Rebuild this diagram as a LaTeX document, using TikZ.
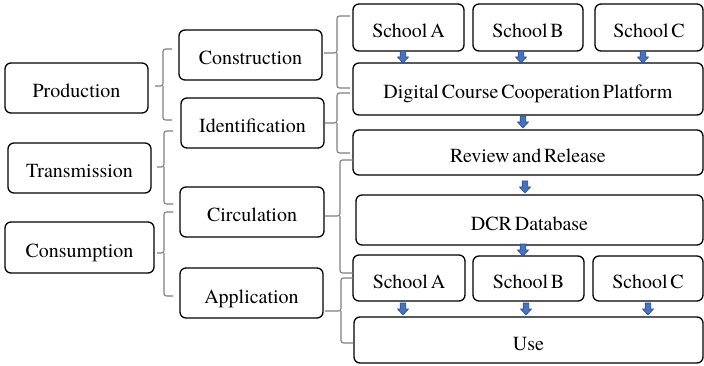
\documentclass[tikz,border=0pt]{standalone}
\usepackage{fontspec}
\setmainfont{TeX Gyre Termes}
\definecolor{arrfill}{HTML}{4472C4}
\definecolor{arrline}{HTML}{2F4F8F}
\definecolor{brcgray}{HTML}{7F7F7F}
% square bracket-like brace: tip x, tip y, spine x, top y, bottom y, end x
\newcommand\bracepath[6]{%
  \draw[brc] (#6,#4) -- (#3,#4) -- (#3,#2) -- (#1,#2);
  \draw[brc] (#6,#5) -- (#3,#5) -- (#3,#2);}
\newcommand\boxfont{\fontsize{20}{24}\selectfont\spaceskip=0.14em plus 0.05em\relax}
\begin{document}
\begin{tikzpicture}[x=1pt,y=-1pt,
  box/.style={draw=black, line width=1.3pt, rounded corners=6pt, inner sep=0pt,
    text height=20pt, text depth=0pt, font=\boxfont},
  brc/.style={draw=brcgray, line width=1.1pt, rounded corners=2.5pt},
  downarrow/.pic={\draw[fill=arrfill, draw=arrline, line width=0.6pt]
    (-2.8,-6) -- (2.8,-6) -- (2.8,0) -- (5.5,0) -- (0,6) -- (-5.5,0) -- (-2.8,0) -- cycle;}]
\fill[white] (0,0) rectangle (704,366);
\useasboundingbox (0,0) rectangle (704,366);

% stages
\node[box, minimum width=143pt, minimum height=50pt] (prod)  at (76.5,88)  {Production};
\node[box, minimum width=143pt, minimum height=50pt] (trans) at (79.5,168) {Transmission};
\node[box, minimum width=149pt, minimum height=51pt] (cons)  at (79.5,247.5) {Consumption};

% activities
\node[box, minimum width=143pt, minimum height=50pt] (constr) at (250.5,55)  {Construction};
\node[box, minimum width=143pt, minimum height=50pt] (ident)  at (252.5,123) {Identification};
\node[box, minimum width=144pt, minimum height=50pt] (circ)   at (252,212)   {Circulation};
\node[box, minimum width=143pt, minimum height=50pt] (appl)   at (251.5,293) {Application};

% process flow
\node[box, minimum width=111pt, minimum height=47pt] (sa1) at (408.5,27.5) {School A};
\node[box, minimum width=110pt, minimum height=47pt] (sb1) at (528,27.5)   {School B};
\node[box, minimum width=108pt, minimum height=47pt] (sc1) at (649,27.5)   {School C};
\node[box, minimum width=350pt, minimum height=52pt] (dccp) at (528,89)    {Digital Course Cooperation Platform};
\node[box, minimum width=350pt, minimum height=45pt] (rr)   at (528,152.5) {Review and Release};
\node[box, minimum width=347pt, minimum height=50pt] (dcr)  at (529.5,220) {DCR Database};
\node[box, minimum width=112pt, minimum height=46pt] (sa2) at (409,278)    {School A};
\node[box, minimum width=111pt, minimum height=45pt] (sb2) at (528.5,278.5) {School B};
\node[box, minimum width=110pt, minimum height=45pt] (sc2) at (648,278.5)  {School C};
\node[box, minimum width=349pt, minimum height=46pt] (use)  at (528.5,340) {Use};

% braces between stages and activities
\bracepath{155}{86}{163}{49}{120}{172}
\bracepath{157}{167}{164}{131}{204}{173}
\bracepath{157}{253}{164}{212}{296}{173}

% braces between activities and the process flow
\bracepath{324}{53}{337}{16}{88}{350}
\bracepath{325}{123}{337}{93}{153}{350}
\bracepath{325}{216}{340}{160}{273}{353}
\bracepath{325}{311}{341}{278}{343}{353}

% block arrows
\pic at (403,57) {downarrow};
\pic at (521,57) {downarrow};
\pic at (643,57) {downarrow};
\pic at (523,122) {downarrow};
\pic at (525,187) {downarrow};
\pic at (523,250) {downarrow};
\pic at (403,309) {downarrow};
\pic at (526,309) {downarrow};
\pic at (648,309) {downarrow};
\end{tikzpicture}
\end{document}
